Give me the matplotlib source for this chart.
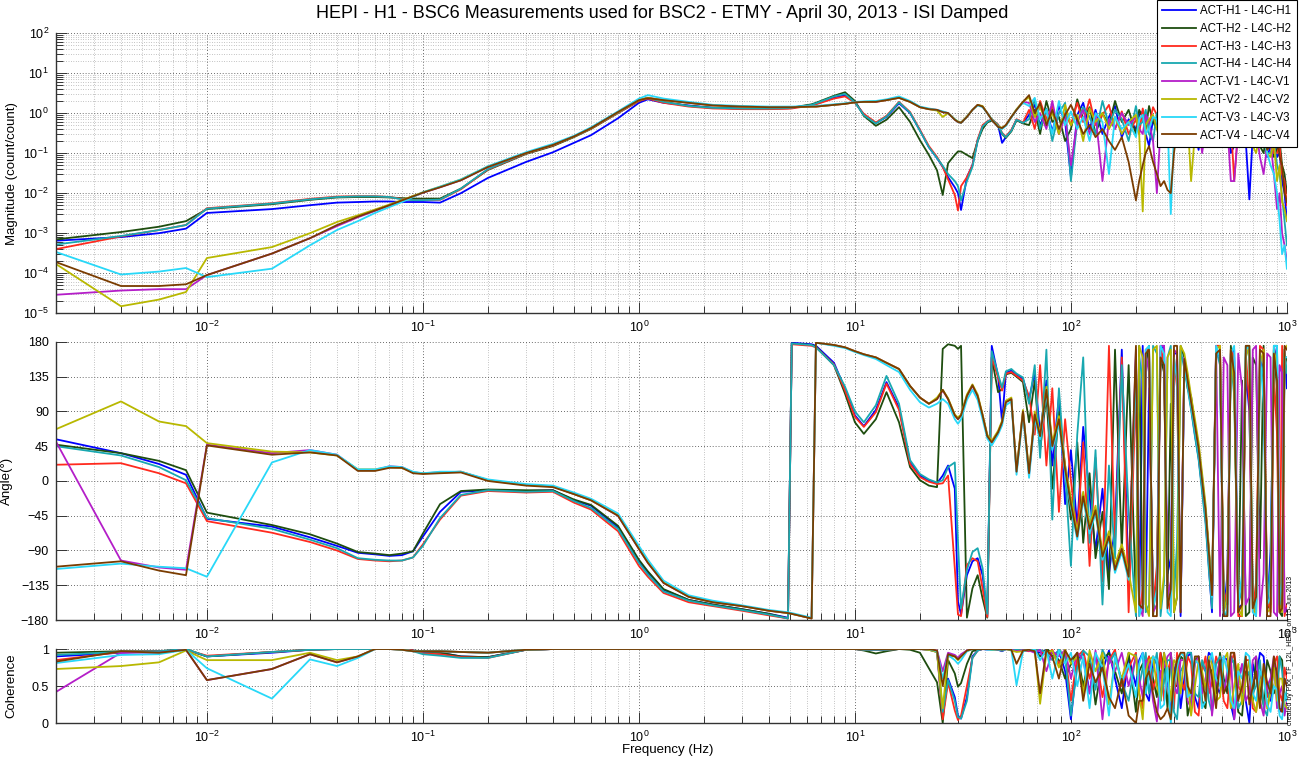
import matplotlib
matplotlib.use("Agg")
import matplotlib.pyplot as plt
from matplotlib.ticker import LogLocator, LogFormatterMathtext, NullFormatter, NullLocator, FixedLocator

plt.rcParams['font.family'] = ['Liberation Sans', 'DejaVu Sans']
plt.rcParams['mathtext.default'] = 'regular'

# frequency points (Hz): low band, mid band, dense high band
freq = [0.002, 0.004, 0.006, 0.008, 0.01, 0.02, 0.03, 0.04, 0.05, 0.06,
        0.07, 0.08, 0.09, 0.1, 0.12, 0.15, 0.2, 0.3, 0.4, 0.5,
        0.6, 0.8, 1.0, 1.1, 1.3, 1.7, 2.2, 3, 4, 4.9,
        5.1, 6.3, 6.6, 8, 9, 10, 11, 12.5, 14, 16,
        18, 20, 22, 24, 25.5, 27, 29, 30, 31, 33,
        35, 37, 39, 41, 43, 46, 48, 50, 53, 56,
        60] + \
       [64, 68, 72, 77, 82, 88, 94, 100, 107, 114,
        122, 130, 140, 150, 160, 172, 185] + \
       [200, 207, 215, 222, 230, 240, 250, 260, 270, 280,
        290, 300, 310, 322, 335, 347, 360, 375, 390, 405,
        420, 435, 450, 470, 490, 510, 530, 550, 570, 595,
        620, 645, 670, 695, 720, 750, 780, 810, 840, 870,
        900, 925, 950, 975, 1000]

names = ["ACT-H1 - L4C-H1", "ACT-H2 - L4C-H2", "ACT-H3 - L4C-H3", "ACT-H4 - L4C-H4",
         "ACT-V1 - L4C-V1", "ACT-V2 - L4C-V2", "ACT-V3 - L4C-V3", "ACT-V4 - L4C-V4"]
colors = ['#0000ff', '#1e4d0f', '#ff2a1e', '#18a8b0',
          '#b41ec8', '#b8b800', '#28d8f8', '#7a3c00']

# magnitude (count/count)
mag_h1 = [6.5e-4, 8e-4, 1.0e-3, 1.3e-3, 3.2e-3, 4.0e-3, 5.0e-3, 5.8e-3, 6.0e-3, 6.2e-3,
          6.2e-3, 6.0e-3, 6.0e-3, 6.0e-3, 5.8e-3, 1.0e-2, 0.024, 0.06, 0.105, 0.18,
          0.28, 0.74, 1.8, 2.2, 1.8, 1.55, 1.35, 1.3, 1.3, 1.32,
          1.35, 1.6, 1.7, 2.4, 2.8, 1.9, 0.9, 0.56, 0.8, 1.75,
          1.0, 0.37, 0.14, 0.075, 0.045, 0.025, 0.014, 0.01, 0.0038, 0.025,
          0.05, 0.21, 0.45, 0.6, 0.68, 0.5, 0.18, 0.25, 0.37, 0.68,
          0.56] + \
         [0.9, 1.6, 0.5, 1.2, 0.35, 1.5, 0.6, 0.025, 0.9, 1.8,
          0.4, 1.2, 0.3, 0.8, 1.5, 0.25, 0.7] + \
         [0.4, 0.9, 1.1, 0.3, 0.15, 0.7, 0.5, 1.2, 0.9, 0.35,
          0.2, 0.8, 0.6, 0.25, 0.3, 0.9, 1.0, 0.4, 0.12, 0.6,
          0.45, 1.1, 0.8, 0.2, 0.3, 0.7, 0.5, 0.1, 0.15, 0.5,
          0.6, 0.2, 0.007, 0.3, 0.4, 0.6, 0.25, 0.08, 0.15, 0.3,
          0.08, 0.1, 0.02, 0.01, 0.002]
mag_h2 = [7e-4, 1.07e-3, 1.45e-3, 2.0e-3, 4.0e-3, 5.3e-3, 6.8e-3, 7.8e-3, 8.0e-3, 8.0e-3,
          7.8e-3, 7.5e-3, 7.3e-3, 7.3e-3, 7.3e-3, 1.3e-2, 0.038, 0.095, 0.15, 0.25,
          0.4, 1.0, 2.0, 2.4, 1.9, 1.5, 1.35, 1.3, 1.3, 1.33,
          1.37, 1.65, 1.8, 2.7, 3.3, 2.0, 0.85, 0.48, 0.68, 1.4,
          0.6, 0.21, 0.09, 0.037, 0.009, 0.056, 0.09, 0.11, 0.11, 0.09,
          0.075, 0.2, 0.4, 0.58, 0.65, 0.48, 0.3, 0.24, 0.35, 0.66,
          0.55] + \
         [0.5, 1.2, 0.3, 2.0, 0.6, 0.8, 0.2, 0.4, 2.2, 0.7,
          1.4, 0.3, 1.0, 0.5, 2.0, 0.6, 1.2] + \
         [0.3, 1.2, 0.8, 0.4, 1.5, 0.6, 0.4, 1.0, 0.7, 0.3,
          0.25, 0.9, 1.1, 0.4, 0.5, 1.3, 0.3, 0.6, 0.9, 0.25,
          0.2, 0.8, 0.6, 0.3, 0.4, 0.9, 0.15, 0.5, 0.7, 0.2,
          0.3, 0.6, 0.2, 0.4, 0.5, 0.15, 0.1, 0.4, 0.3, 0.08,
          0.12, 0.2, 0.05, 0.03, 0.01]
mag_h3 = [4e-4, 8.3e-4, 1.2e-3, 1.6e-3, 4.2e-3, 5.6e-3, 7.2e-3, 8.2e-3, 8.4e-3, 8.4e-3,
          8.0e-3, 7.2e-3, 6.8e-3, 6.8e-3, 6.8e-3, 1.25e-2, 0.039, 0.098, 0.155, 0.26,
          0.41, 1.0, 2.0, 2.3, 1.8, 1.45, 1.3, 1.25, 1.25, 1.28,
          1.3, 1.55, 1.65, 2.3, 2.6, 1.8, 0.95, 0.58, 0.85, 1.9,
          1.06, 0.38, 0.15, 0.08, 0.045, 0.022, 0.009, 0.0037, 0.015, 0.025,
          0.05, 0.22, 0.5, 0.62, 0.7, 0.52, 0.32, 0.26, 0.38, 0.7,
          0.58] + \
         [1.2, 0.4, 2.0, 0.7, 1.5, 0.3, 1.0, 0.5, 1.8, 0.6,
          2.2, 0.5, 0.9, 1.6, 0.4, 1.1, 0.3] + \
         [0.7, 0.3, 1.3, 0.6, 0.5, 1.4, 0.9, 0.3, 0.2, 0.7,
          0.8, 0.35, 0.4, 1.0, 1.3, 0.5, 0.6, 1.1, 0.25, 0.4,
          0.9, 0.3, 0.5, 1.0, 0.7, 0.2, 0.3, 0.6, 0.02, 0.4,
          0.5, 0.9, 0.8, 0.2, 0.3, 0.5, 0.15, 0.35, 0.25, 0.1,
          0.1, 0.15, 0.03, 0.02, 0.005]
mag_h4 = [5.2e-4, 8.5e-4, 1.2e-3, 1.6e-3, 4.1e-3, 5.5e-3, 7.0e-3, 8.0e-3, 8.3e-3, 8.3e-3,
          8.0e-3, 7.0e-3, 6.7e-3, 6.7e-3, 6.9e-3, 1.3e-2, 0.04, 0.1, 0.16, 0.26,
          0.42, 1.02, 2.1, 2.4, 1.9, 1.5, 1.35, 1.3, 1.3, 1.33,
          1.36, 1.6, 1.75, 2.6, 3.0, 1.85, 0.88, 0.55, 0.82, 1.85,
          1.02, 0.36, 0.14, 0.075, 0.048, 0.03, 0.02, 0.015, 0.0066, 0.02,
          0.045, 0.2, 0.46, 0.6, 0.7, 0.5, 0.31, 0.25, 0.36, 0.68,
          0.57] + \
         [0.7, 2.2, 0.4, 1.3, 0.2, 1.0, 1.8, 0.02, 0.6, 1.4,
          0.8, 0.3, 2.0, 0.5, 1.2, 0.7, 0.2] + \
         [1.5, 0.5, 0.6, 1.2, 0.3, 0.2, 1.0, 0.7, 0.4, 1.1,
          0.8, 0.3, 0.15, 0.5, 0.7, 1.4, 1.2, 0.5, 0.3, 0.8,
          0.6, 0.15, 0.2, 0.7, 0.9, 0.3, 0.4, 0.8, 0.6, 0.25,
          0.2, 0.6, 0.5, 0.15, 0.35, 0.5, 0.2, 0.1, 0.1, 0.2,
          0.05, 0.03, 0.008, 0.002, 0.0005]
mag_v1 = [2.9e-5, 3.7e-5, 4.0e-5, 4.0e-5, 9.0e-5, 3.1e-4, 7.5e-4, 1.5e-3, 2.5e-3, 3.6e-3,
          5.0e-3, 6.5e-3, 8.2e-3, 1.02e-2, 1.4e-2, 2.1e-2, 0.045, 0.1, 0.16, 0.26,
          0.42, 1.06, 2.1, 2.4, 2.1, 1.8, 1.55, 1.45, 1.4, 1.4,
          1.4, 1.45, 1.45, 1.6, 1.7, 1.85, 1.9, 1.9, 2.1, 2.4,
          1.9, 1.4, 1.25, 1.2, 1.06, 1.0, 0.68, 0.6, 0.57, 0.8,
          1.2, 1.6, 1.45, 1.0, 0.68, 0.45, 0.42, 0.5, 0.8, 1.2,
          1.9] + \
         [1.8, 0.6, 1.0, 0.4, 2.0, 0.3, 0.8, 0.05, 0.6, 1.2,
          0.3, 0.9, 0.02, 0.7, 0.4, 1.0, 0.5] + \
         [0.8, 0.4, 0.3, 0.9, 0.6, 0.2, 0.01, 0.4, 0.5, 1.0,
          0.9, 0.25, 0.3, 0.8, 0.7, 0.3, 0.2, 0.7, 0.6, 0.1,
          0.4, 0.6, 0.15, 0.5, 0.8, 0.3, 0.5, 0.02, 0.02, 0.4,
          0.6, 0.2, 0.3, 0.5, 0.4, 0.08, 0.03, 0.15, 0.2, 0.03,
          0.004, 0.01, 0.001, 0.0005, 0.0002]
mag_v2 = [1.7e-4, 1.5e-5, 2.2e-5, 3.4e-5, 2.4e-4, 4.5e-4, 1.0e-3, 1.9e-3, 2.8e-3, 3.9e-3,
          5.2e-3, 6.7e-3, 8.5e-3, 1.05e-2, 1.45e-2, 2.2e-2, 0.046, 0.1, 0.16, 0.26,
          0.42, 1.05, 2.1, 2.4, 2.1, 1.8, 1.55, 1.45, 1.4, 1.4,
          1.4, 1.45, 1.45, 1.6, 1.7, 1.85, 1.9, 1.95, 2.1, 2.4,
          1.9, 1.4, 1.25, 1.15, 0.8, 1.0, 0.7, 0.62, 0.58, 0.82,
          1.2, 1.6, 1.5, 1.0, 0.7, 0.46, 0.43, 0.5, 0.8, 1.25,
          1.9] + \
         [2.5, 0.8, 1.4, 0.6, 1.0, 0.3, 1.6, 0.5, 0.9, 0.2,
          1.3, 0.6, 1.0, 0.4, 0.8, 0.3, 0.6] + \
         [0.9, 0.3, 0.0035, 0.5, 0.7, 0.9, 0.4, 0.2, 1.0, 0.6,
          0.3, 0.8, 0.6, 0.2, 0.5, 0.7, 0.02, 0.3, 0.7, 0.4,
          0.3, 0.9, 0.5, 0.2, 0.25, 0.7, 0.6, 0.3, 0.4, 0.6,
          0.2, 0.4, 0.5, 0.15, 0.1, 0.3, 0.4, 0.1, 0.08, 0.2,
          0.02, 0.05, 0.006, 0.004, 0.002]
mag_v3 = [3.4e-4, 9.3e-5, 1.1e-4, 1.35e-4, 8.0e-5, 1.3e-4, 5.0e-4, 1.2e-3, 2.0e-3, 3.2e-3,
          4.5e-3, 6.0e-3, 8.0e-3, 1.05e-2, 1.45e-2, 2.2e-2, 0.047, 0.105, 0.17, 0.27,
          0.44, 1.1, 2.3, 2.8, 2.3, 1.9, 1.6, 1.5, 1.45, 1.45,
          1.45, 1.5, 1.5, 1.65, 1.75, 1.9, 1.95, 2.0, 2.2, 2.6,
          2.0, 1.45, 1.3, 1.2, 1.1, 1.0, 0.7, 0.6, 0.57, 0.8,
          1.2, 1.55, 1.4, 1.0, 0.7, 0.45, 0.4, 0.48, 0.78, 1.2,
          1.8] + \
         [1.5, 2.4, 0.7, 1.2, 0.3, 2.0, 0.5, 1.1, 0.4, 0.8,
          0.2, 1.0, 0.6, 0.03, 0.8, 0.4, 0.6] + \
         [0.25, 0.7, 0.9, 0.3, 0.4, 0.8, 0.7, 0.15, 0.2, 0.6,
          0.003, 0.3, 0.5, 0.9, 0.8, 0.2, 0.3, 0.7, 0.6, 0.15,
          0.2, 0.5, 0.7, 0.4, 0.35, 0.8, 0.5, 0.2, 0.15, 0.5,
          0.4, 0.8, 0.7, 0.2, 0.2, 0.4, 0.3, 0.1, 0.05, 0.03,
          0.01, 0.002, 0.0003, 0.0005, 0.00013]
mag_v4 = [1.9e-4, 4.8e-5, 4.8e-5, 5.3e-5, 9.0e-5, 3.1e-4, 7.5e-4, 1.6e-3, 2.6e-3, 3.7e-3,
          5.0e-3, 6.6e-3, 8.3e-3, 1.03e-2, 1.4e-2, 2.1e-2, 0.045, 0.1, 0.16, 0.26,
          0.42, 1.06, 2.1, 2.35, 2.1, 1.8, 1.55, 1.45, 1.4, 1.4,
          1.4, 1.45, 1.45, 1.6, 1.7, 1.85, 1.9, 1.9, 2.1, 2.4,
          1.9, 1.4, 1.25, 1.2, 1.05, 1.0, 0.68, 0.6, 0.57, 0.8,
          1.2, 1.6, 1.45, 1.0, 0.68, 0.45, 0.42, 0.5, 0.8, 1.2,
          1.9] + \
         [2.8, 1.0, 1.8, 0.5, 1.2, 0.4, 0.9, 1.6, 0.7, 0.3,
          0.5, 0.25, 0.4, 0.2, 0.12, 0.25, 0.06] + \
         [0.0066, 0.02, 0.05, 0.1, 0.15, 0.06, 0.03, 0.015, 0.02, 0.012,
          0.01, 0.1, 0.4, 0.6, 0.7, 0.25, 0.3, 0.8, 0.9, 0.4,
          0.5, 0.7, 0.2, 0.4, 0.6, 0.3, 0.4, 0.9, 0.8, 0.25,
          0.3, 0.6, 0.5, 0.15, 0.2, 0.45, 0.4, 0.12, 0.15, 0.35,
          0.3, 0.08, 0.05, 0.01, 0.006]

# phase (deg)
ph_h1 = [54, 36, 22, 8, -49, -59, -73, -84, -93, -95,
         -97, -96, -91, -72, -40, -14, -12, -13, -12, -25,
         -32, -60, -104, -118, -141, -154, -160, -166, -172, -177,
         179, 177, 175, 153, 119, 85, 71, 92, 128, 95,
         24, 7, 1, -3, 7, 20, -10, -156, -173, -122,
         -104, -100, -122, -175, 175, 136, 76, 140, 143, 138,
         132] + \
        [106, 140, 60, 130, 20, 110, -30, 40, -60, 70,
         -20, -90, -10, -120, -60, 170, -130] + \
        [160, -170, 175, -160, 120, -150, -150, 170, 175, -120,
         -100, 165, 165, -175, 150, 125, 95, 60, 30, -10,
         -50, -110, -170, 170, 160, -175, -120, 165, 170, -165,
         -160, 140, 90, -150, -175, 160, 140, -170, -90, 150,
         175, -160, -150, 170, 120]
ph_h2 = [47, 36, 26, 14, -41, -57, -69, -81, -92, -94,
         -96, -94, -91, -68, -30, -13, -11, -12, -12, -24,
         -31, -58, -102, -117, -140, -154, -160, -166, -172, -178,
         178, 176, 174, 150, 113, 76, 61, 80, 115, 76,
         18, 1, -6, -8, 171, 177, 175, 171, 175, -177,
         -139, -122, -152, -177, 160, 115, 119, 138, 140, 135,
         128] + \
        [76, 130, 40, 110, -10, 90, 20, -50, 50, -80,
         10, -100, -40, -140, 170, -90, 150] + \
        [-160, 175, -170, 150, 175, -175, -120, 160, 140, -150,
         100, -170, -150, 175, 160, 120, 110, 70, 40, 0,
         -40, -90, -150, 160, 170, -150, -160, 175, 130, -170,
         130, -175, -170, 160, 150, -100, 175, -165, -160, 170,
         120, -170, -175, 150, 160]
ph_h3 = [21, 23, 10, -3, -52, -67, -79, -90, -101, -103,
         -104, -103, -99, -82, -50, -19, -13, -15, -14, -28,
         -37, -65, -110, -124, -145, -157, -162, -168, -174, -178,
         177, 175, 173, 151, 117, 83, 70, 89, 126, 92,
         22, 5, -1, -4, -3, 7, -113, -173, -175, -109,
         -100, -104, -139, -176, 160, 134, 117, 139, 141, 136,
         130] + \
        [110, 60, 150, 20, 120, -40, 80, 0, -70, 50,
         -110, 30, -130, 175, -80, 160, -170] + \
        [120, -175, -140, 170, 170, -165, -110, 175, 150, -150,
         -170, 160, 120, -160, 155, 130, 100, 65, 35, -5,
         -45, -100, -160, 175, 175, -160, -140, 170, 160, -175,
         -175, 165, 100, -170, -130, 175, 170, -150, -170, 140,
         60, -170, 175, -175, -160]
ph_h4 = [45, 33, 18, 1, -48, -62, -76, -87, -100, -102,
         -103, -103, -99, -84, -48, -18, -12, -14, -13, -26,
         -35, -62, -106, -121, -143, -155, -161, -167, -173, -178,
         178, 176, 173, 150, 122, 90, 76, 98, 136, 100,
         27, 9, 2, -2, 1, 18, 24, -79, -165, -115,
         -92, -87, -113, -172, 168, 138, 121, 142, 145, 139,
         134] + \
        [100, 150, 30, 170, -50, 120, 10, -110, 60, 160,
         -80, 40, -160, 20, -100, 150, -40] + \
        [-175, 160, 130, -170, -160, 175, 165, -175, -130, 160,
         175, -150, -80, 170, 145, 120, 92, 58, 28, -15,
         -55, -115, -165, 170, 150, -170, -175, 160, 110, -160,
         -140, 175, 170, -165, -160, 130, 150, -160, -110, 175,
         175, -160, -170, 165, 140]
ph_v1 = [51, -103, -112, -115, 47, 36, 40, 34, 14, 14,
         19, 18, 11, 10, 11, 12, 1, -5, -7, -17,
         -25, -45, -88, -106, -132, -150, -157, -162, -168, -171,
         -172, -178, 179, 176, 173, 168, 164, 160, 153, 145,
         123, 108, 100, 106, 117, 106, 85, 80, 85, 110,
         123, 110, 85, 59, 50, 63, 76, 102, 106, 12,
         90] + \
        [8, 85, 59, 119, 46, 80, 16, -27, -70, -18,
         -61, -36, -96, -70, -113, -87, -122] + \
        [170, -160, -175, 165, 140, -170, -160, 175, 175, -150,
         -130, 170, 165, -170, 160, 135, 105, 75, 45, 5,
         -35, -90, -145, 175, -175, 160, 150, -175, -170, 165,
         120, -160, -150, 170, 175, -175, -120, 165, 160, -170,
         -175, 150, 140, -170, -165]
ph_v2 = [67, 103, 77, 71, 49, 38, 37, 33, 15, 15,
         18, 17, 11, 10, 11, 12, 1, -5, -7, -17,
         -25, -44, -87, -105, -131, -150, -157, -162, -168, -171,
         -172, -178, 179, 176, 173, 168, 164, 160, 153, 145,
         123, 108, 100, 108, 118, 107, 86, 82, 86, 112,
         125, 112, 86, 60, 52, 65, 78, 104, 108, 15,
         92] + \
        [12, 90, 62, 122, 50, 84, 20, -22, -66, -14,
         -57, -32, -92, -65, -108, -82, -118] + \
        [-170, 175, 160, -160, -175, 170, 175, -165, -120, 160,
         170, -170, -150, 175, 165, 140, 110, 80, 50, 10,
         -30, -85, -140, 170, 175, -170, -150, 170, 120, -165,
         -175, 160, 175, -160, -175, 150, 170, -170, -165, 170,
         150, -160, -170, 170, 175]
ph_v3 = [-114, -107, -111, -113, -124, 24, 40, 34, 15, 15,
         19, 18, 12, 10, 12, 12, 2, -4, -6, -15,
         -23, -42, -84, -102, -129, -148, -155, -161, -167, -170,
         -171, -177, 179, 175, 172, 167, 163, 158, 150, 141,
         118, 102, 95, 100, 106, 100, 80, 74, 80, 105,
         118, 105, 80, 55, 46, 60, 72, 98, 103, 8,
         86] + \
        [4, 80, 54, 114, 40, 75, 10, -34, -76, -24,
         -68, -42, -102, -75, -119, -92, -128] + \
        [150, -175, -160, 170, 175, -165, -140, 175, 165, -170,
         -175, 160, 130, -165, 150, 125, 98, 68, 38, -2,
         -42, -95, -150, 175, 160, -170, -170, 165, 175, -160,
         -120, 170, 175, -170, -175, 165, 100, -160, -150, 175,
         175, -160, -130, 160, 160]
ph_v4 = [-111, -104, -116, -122, 46, 34, 37, 33, 13, 13,
         17, 17, 10, 9, 10, 11, 0, -6, -8, -17,
         -25, -45, -88, -106, -132, -150, -157, -162, -168, -171,
         -172, -178, 179, 176, 173, 168, 164, 160, 153, 145,
         123, 108, 100, 106, 118, 106, 85, 80, 85, 110,
         124, 110, 85, 58, 50, 63, 76, 102, 106, 12,
         90] + \
        [10, 86, 58, 118, 45, 80, 15, -30, -72, -20,
         -62, -38, -98, -72, -115, -88, -124] + \
        [175, -160, -165, 165, 170, -175, -175, 160, 150, -165,
         -140, 175, 175, -170, 158, 130, 102, 72, 42, 0,
         -38, -92, -148, 165, 170, -175, -175, 170, 140, -170,
         -160, 175, 175, -165, -150, 170, 165, -175, -175, 165,
         130, -170, -165, 175, 170]

# coherence
coh_h1 = [0.90, 0.95, 0.97, 0.99, 0.90, 0.95, 0.99, 1.00, 1.00, 1.00,
          1.00, 1.00, 0.98, 0.96, 0.95, 0.90, 0.89, 0.99, 1.00, 1.00,
          1.00, 1.00, 1.00, 1.00, 1.00, 1.00, 1.00, 1.00, 1.00, 1.00,
          1.00, 1.00, 1.00, 1.00, 1.00, 1.00, 0.99, 0.99, 0.99, 1.00,
          1.00, 1.00, 0.99, 0.97, 0.10, 0.60, 0.35, 0.10, 0.06, 0.35,
          0.90, 0.98, 1.00, 1.00, 1.00, 0.99, 0.97, 1.00, 1.00, 0.99,
          0.98] + \
         [0.99, 0.97, 0.95, 0.99, 0.90, 0.98, 0.70, 0.05, 0.85, 0.95,
          0.40, 0.90, 0.70, 0.98, 0.60, 0.20, 0.90] + \
         [0.50, 0.85, 0.95, 0.40, 0.30, 0.90, 0.80, 0.30, 0.95, 0.60,
          0.10, 0.70, 0.85, 0.20, 0.60, 0.90, 0.95, 0.35, 0.20, 0.80,
          0.70, 0.95, 0.90, 0.50, 0.40, 0.90, 0.85, 0.25, 0.05, 0.70,
          0.75, 0.30, 0.00, 0.80, 0.60, 0.95, 0.90, 0.40, 0.30, 0.80,
          0.70, 0.15, 0.20, 0.60, 0.50]
coh_h2 = [0.95, 0.97, 0.97, 1.00, 0.90, 0.96, 0.99, 1.00, 1.00, 1.00,
          1.00, 1.00, 0.98, 0.97, 0.95, 0.90, 0.89, 0.99, 1.00, 1.00,
          1.00, 1.00, 1.00, 1.00, 1.00, 1.00, 1.00, 1.00, 1.00, 1.00,
          1.00, 1.00, 1.00, 1.00, 1.00, 1.00, 0.98, 0.94, 0.97, 1.00,
          0.99, 0.95, 0.74, 0.55, 0.00, 0.85, 0.67, 0.49, 0.54, 0.80,
          0.97, 0.99, 1.00, 1.00, 0.99, 1.00, 0.98, 1.00, 0.99, 0.98,
          0.97] + \
         [0.98, 0.99, 0.90, 1.00, 0.95, 0.85, 0.60, 0.80, 0.95, 0.50,
          0.90, 0.25, 0.85, 0.95, 0.70, 0.40, 0.95] + \
         [0.15, 0.70, 0.80, 0.40, 0.90, 0.60, 0.35, 0.95, 0.75, 0.20,
          0.95, 0.50, 0.50, 0.90, 0.85, 0.10, 0.30, 0.85, 0.90, 0.30,
          0.20, 0.75, 0.70, 0.40, 0.95, 0.60, 0.40, 0.90, 0.80, 0.15,
          0.10, 0.70, 0.65, 0.30, 0.90, 0.50, 0.25, 0.85, 0.70, 0.40,
          0.50, 0.90, 0.85, 0.30, 0.40]
coh_h3 = [0.85, 0.96, 0.97, 0.99, 0.91, 0.96, 0.99, 1.00, 1.00, 1.00,
          1.00, 1.00, 0.98, 0.94, 0.93, 0.89, 0.88, 0.99, 1.00, 1.00,
          1.00, 1.00, 1.00, 1.00, 1.00, 1.00, 1.00, 1.00, 1.00, 1.00,
          1.00, 1.00, 1.00, 1.00, 1.00, 1.00, 0.99, 0.99, 0.99, 1.00,
          1.00, 1.00, 0.99, 0.96, 0.05, 0.55, 0.17, 0.04, 0.10, 0.50,
          0.88, 0.98, 1.00, 1.00, 1.00, 0.99, 0.98, 1.00, 1.00, 0.99,
          0.98] + \
         [0.97, 1.00, 0.98, 0.92, 0.99, 0.80, 0.95, 0.30, 0.90, 0.98,
          0.60, 0.95, 0.35, 0.85, 0.99, 0.50, 0.75] + \
         [0.95, 0.40, 0.20, 0.80, 0.90, 0.45, 0.65, 0.95, 0.30, 0.70,
          0.85, 0.20, 0.95, 0.60, 0.45, 0.90, 0.80, 0.15, 0.10, 0.70,
          0.90, 0.40, 0.55, 0.90, 0.75, 0.30, 0.20, 0.80, 0.95, 0.50,
          0.40, 0.85, 0.85, 0.20, 0.15, 0.60, 0.70, 0.35, 0.45, 0.80,
          0.90, 0.40, 0.30, 0.75, 0.60]
coh_h4 = [0.92, 0.96, 0.97, 1.00, 0.90, 0.96, 0.99, 1.00, 1.00, 1.00,
          1.00, 1.00, 0.97, 0.93, 0.91, 0.88, 0.88, 0.99, 1.00, 1.00,
          1.00, 1.00, 1.00, 1.00, 1.00, 1.00, 1.00, 1.00, 1.00, 1.00,
          1.00, 1.00, 1.00, 1.00, 1.00, 1.00, 0.99, 0.99, 0.99, 1.00,
          1.00, 1.00, 0.99, 0.96, 0.15, 0.58, 0.30, 0.08, 0.06, 0.30,
          0.88, 0.98, 1.00, 1.00, 1.00, 0.99, 0.98, 1.00, 1.00, 0.99,
          0.98] + \
         [1.00, 0.98, 0.99, 0.95, 0.85, 0.99, 0.90, 0.10, 0.75, 0.98,
          0.90, 0.45, 0.99, 0.80, 0.95, 0.55, 0.30] + \
         [0.92, 0.50, 0.75, 0.95, 0.40, 0.70, 0.95, 0.30, 0.60, 0.85,
          0.85, 0.15, 0.05, 0.70, 0.80, 0.95, 0.95, 0.40, 0.35, 0.85,
          0.70, 0.30, 0.15, 0.80, 0.90, 0.50, 0.60, 0.90, 0.80, 0.20,
          0.30, 0.60, 0.70, 0.40, 0.50, 0.85, 0.20, 0.10, 0.60, 0.75,
          0.40, 0.90, 0.70, 0.30, 0.45]
coh_v1 = [0.42, 0.95, 0.95, 0.99, 0.58, 0.73, 0.93, 0.82, 0.90, 1.00,
          1.00, 0.99, 0.97, 0.97, 0.97, 0.96, 0.95, 0.99, 1.00, 1.00,
          1.00, 1.00, 1.00, 1.00, 1.00, 1.00, 1.00, 1.00, 1.00, 1.00,
          1.00, 1.00, 1.00, 1.00, 1.00, 1.00, 1.00, 1.00, 1.00, 1.00,
          1.00, 1.00, 1.00, 0.98, 0.70, 0.95, 0.92, 0.88, 0.93, 0.98,
          1.00, 1.00, 1.00, 0.99, 1.00, 1.00, 0.99, 1.00, 0.99, 0.97,
          0.98] + \
         [0.98, 0.95, 0.99, 0.70, 0.97, 0.90, 0.99, 0.60, 0.95, 0.85,
          0.40, 0.98, 0.05, 0.90, 0.70, 0.95, 0.50] + \
         [0.90, 0.60, 0.35, 0.85, 0.80, 0.30, 0.02, 0.70, 0.75, 0.90,
          0.95, 0.50, 0.40, 0.85, 0.85, 0.30, 0.20, 0.80, 0.90, 0.40,
          0.60, 0.80, 0.10, 0.60, 0.85, 0.40, 0.70, 0.90, 0.05, 0.55,
          0.80, 0.30, 0.40, 0.85, 0.90, 0.30, 0.10, 0.50, 0.60, 0.90,
          0.20, 0.40, 0.50, 0.10, 0.30]
coh_v2 = [0.73, 0.77, 0.82, 0.98, 0.85, 0.85, 0.95, 0.85, 0.90, 1.00,
          1.00, 0.99, 0.97, 0.97, 0.97, 0.96, 0.95, 0.99, 1.00, 1.00,
          1.00, 1.00, 1.00, 1.00, 1.00, 1.00, 1.00, 1.00, 1.00, 1.00,
          1.00, 1.00, 1.00, 1.00, 1.00, 1.00, 1.00, 1.00, 1.00, 1.00,
          1.00, 1.00, 0.99, 0.96, 0.20, 0.90, 0.90, 0.85, 0.90, 0.97,
          1.00, 1.00, 1.00, 1.00, 0.99, 1.00, 0.99, 1.00, 0.98, 0.96,
          0.97] + \
         [1.00, 0.99, 0.26, 0.95, 0.98, 0.75, 0.99, 0.80, 0.90, 0.40,
          0.98, 0.70, 0.95, 0.25, 0.85, 0.60, 0.95] + \
         [0.90, 0.40, 0.05, 0.70, 0.85, 0.90, 0.50, 0.30, 0.95, 0.70,
          0.30, 0.85, 0.80, 0.40, 0.90, 0.60, 0.10, 0.50, 0.85, 0.70,
          0.45, 0.90, 0.80, 0.30, 0.35, 0.85, 0.95, 0.20, 0.50, 0.80,
          0.25, 0.60, 0.85, 0.30, 0.15, 0.50, 0.70, 0.20, 0.40, 0.75,
          0.30, 0.60, 0.60, 0.25, 0.20]
coh_v3 = [0.81, 0.92, 0.93, 0.99, 0.74, 0.33, 0.86, 0.77, 0.88, 1.00,
          1.00, 0.99, 0.97, 0.97, 0.97, 0.96, 0.95, 0.99, 1.00, 1.00,
          1.00, 1.00, 1.00, 1.00, 1.00, 1.00, 1.00, 1.00, 1.00, 1.00,
          1.00, 1.00, 1.00, 1.00, 1.00, 1.00, 1.00, 1.00, 1.00, 1.00,
          1.00, 1.00, 1.00, 0.97, 0.60, 0.92, 0.85, 0.80, 0.85, 0.97,
          1.00, 1.00, 1.00, 0.99, 0.99, 1.00, 0.98, 1.00, 0.99, 0.51,
          0.97] + \
         [0.99, 1.00, 0.85, 0.99, 0.60, 0.98, 0.80, 0.95, 0.50, 0.90,
          0.20, 0.95, 0.75, 0.10, 0.90, 0.55, 0.80] + \
         [0.35, 0.80, 0.95, 0.40, 0.60, 0.90, 0.85, 0.20, 0.25, 0.75,
          0.00, 0.50, 0.75, 0.95, 0.90, 0.35, 0.40, 0.85, 0.80, 0.20,
          0.30, 0.80, 0.95, 0.60, 0.50, 0.90, 0.70, 0.30, 0.20, 0.70,
          0.60, 0.95, 0.90, 0.40, 0.30, 0.70, 0.60, 0.25, 0.15, 0.50,
          0.45, 0.10, 0.05, 0.40, 0.30]
coh_v4 = [0.83, 0.97, 0.95, 0.99, 0.58, 0.73, 0.93, 0.82, 0.90, 1.00,
          1.00, 0.99, 0.97, 0.97, 0.97, 0.96, 0.95, 0.99, 1.00, 1.00,
          1.00, 1.00, 1.00, 1.00, 1.00, 1.00, 1.00, 1.00, 1.00, 1.00,
          1.00, 1.00, 1.00, 1.00, 1.00, 1.00, 1.00, 1.00, 1.00, 1.00,
          1.00, 1.00, 1.00, 0.98, 0.50, 0.93, 0.90, 0.86, 0.90, 0.98,
          1.00, 1.00, 1.00, 1.00, 1.00, 1.00, 0.99, 1.00, 0.99, 0.80,
          0.98] + \
         [0.99, 0.97, 0.40, 0.99, 0.90, 0.60, 0.98, 0.85, 0.95, 0.30,
          0.80, 0.55, 0.75, 0.35, 0.20, 0.60, 0.10] + \
         [0.00, 0.30, 0.30, 0.60, 0.70, 0.40, 0.15, 0.05, 0.10, 0.20,
          0.05, 0.60, 0.85, 0.95, 0.95, 0.50, 0.40, 0.90, 0.90, 0.60,
          0.30, 0.85, 0.60, 0.20, 0.85, 0.40, 0.50, 0.95, 0.95, 0.30,
          0.50, 0.90, 0.25, 0.50, 0.70, 0.20, 0.80, 0.55, 0.40, 0.90,
          0.65, 0.20, 0.15, 0.60, 0.50]

mags = [mag_h1, mag_h2, mag_h3, mag_h4, mag_v1, mag_v2, mag_v3, mag_v4]
phases = [ph_h1, ph_h2, ph_h3, ph_h4, ph_v1, ph_v2, ph_v3, ph_v4]
cohs = [coh_h1, coh_h2, coh_h3, coh_h4, coh_v1, coh_v2, coh_v3, coh_v4]
for arr in mags + phases + cohs:
    assert len(arr) == len(freq), len(arr)

title = "HEPI - H1 - BSC6 Measurements used for BSC2 - ETMY - April 30, 2013 - ISI Damped"

fig = plt.figure(figsize=(13.04, 7.66), dpi=100)
axM = fig.add_axes([0.0429, 0.591, 0.944, 0.366])
axP = fig.add_axes([0.0429, 0.1906, 0.944, 0.363])
axC = fig.add_axes([0.0429, 0.0561, 0.944, 0.0966])

lw = 1.3
for i in range(8):
    axM.plot(freq, mags[i], color=colors[i], lw=lw, label=names[i])
    axP.plot(freq, phases[i], color=colors[i], lw=lw)
    axC.plot(freq, cohs[i], color=colors[i], lw=lw)

major_grid = dict(color='#3a3a3a', linestyle=(0, (1, 2.5)), linewidth=0.6)
minor_grid = dict(color='#8c8c8c', linestyle=(0, (1, 2.5)), linewidth=0.5)

for ax in (axM, axP, axC):
    ax.set_xscale('log')
    ax.set_xlim(0.002, 1000)
    ax.xaxis.set_major_locator(LogLocator(base=10, numticks=20))
    ax.xaxis.set_minor_locator(LogLocator(base=10, subs=range(2, 10), numticks=40))
    ax.xaxis.set_major_formatter(LogFormatterMathtext())
    ax.xaxis.set_minor_formatter(NullFormatter())
    for s in ('top', 'right'):
        ax.spines[s].set_visible(False)
    for s in ('left', 'bottom'):
        ax.spines[s].set_color('#333333')
        ax.spines[s].set_linewidth(1.0)
    ax.tick_params(which='major', direction='in', length=8, width=0.7, colors='#333333',
                   labelsize=9, labelcolor='black', pad=5)
    ax.tick_params(which='minor', direction='in', length=5, width=0.7, colors='#333333')
    ax.set_axisbelow(True)
    ax.grid(True, which='major', axis='both', **major_grid)
    ax.grid(True, which='minor', axis='x', **minor_grid)

# magnitude panel
axM.set_yscale('log')
axM.set_ylim(1e-5, 1e2)
axM.yaxis.set_major_locator(LogLocator(base=10, numticks=20))
axM.yaxis.set_minor_locator(LogLocator(base=10, subs=range(2, 10), numticks=40))
axM.yaxis.set_major_formatter(LogFormatterMathtext())
axM.yaxis.set_minor_formatter(NullFormatter())
axM.grid(True, which='minor', axis='y', **minor_grid)
axM.set_ylabel("Magnitude (count/count)", fontsize=9.5)
axM.yaxis.set_label_coords(-0.031, 0.5)

# phase panel
axP.set_ylim(-180, 180)
axP.yaxis.set_major_locator(FixedLocator(range(-180, 181, 45)))
axP.yaxis.set_minor_locator(NullLocator())
axP.set_ylabel("Angle(°)", fontsize=9.5)
axP.yaxis.set_label_coords(-0.035, 0.5)

# coherence panel
axC.set_ylim(0, 1)
axC.set_yticks([0, 0.5, 1])
axC.set_yticklabels(['0', '0.5', '1'])
axC.yaxis.set_minor_locator(NullLocator())
axC.set_ylabel("Coherence", fontsize=9.5)
axC.yaxis.set_label_coords(-0.031, 0.5)
axC.set_xlabel("Frequency (Hz)", fontsize=9.5)
axC.xaxis.set_label_coords(0.497, -0.29)

fig.text(0.508, 0.982, title, ha='center', va='center', fontsize=13)

leg = fig.legend(*axM.get_legend_handles_labels(), loc='upper right',
                 bbox_to_anchor=(0.9945, 1.0), fontsize=8.3, frameon=True,
                 fancybox=False, edgecolor='black', framealpha=1,
                 borderaxespad=0, handlelength=2.9, handletextpad=0.4,
                 labelspacing=0.5, borderpad=0.45)
leg.get_frame().set_linewidth(0.8)

fig.text(0.990, 0.151, "created by Plot_TF_12L_HEPI_on 15-Jun-2013", rotation=90,
         ha='center', va='center', fontsize=5)

fig.savefig("out.png", dpi=100)
